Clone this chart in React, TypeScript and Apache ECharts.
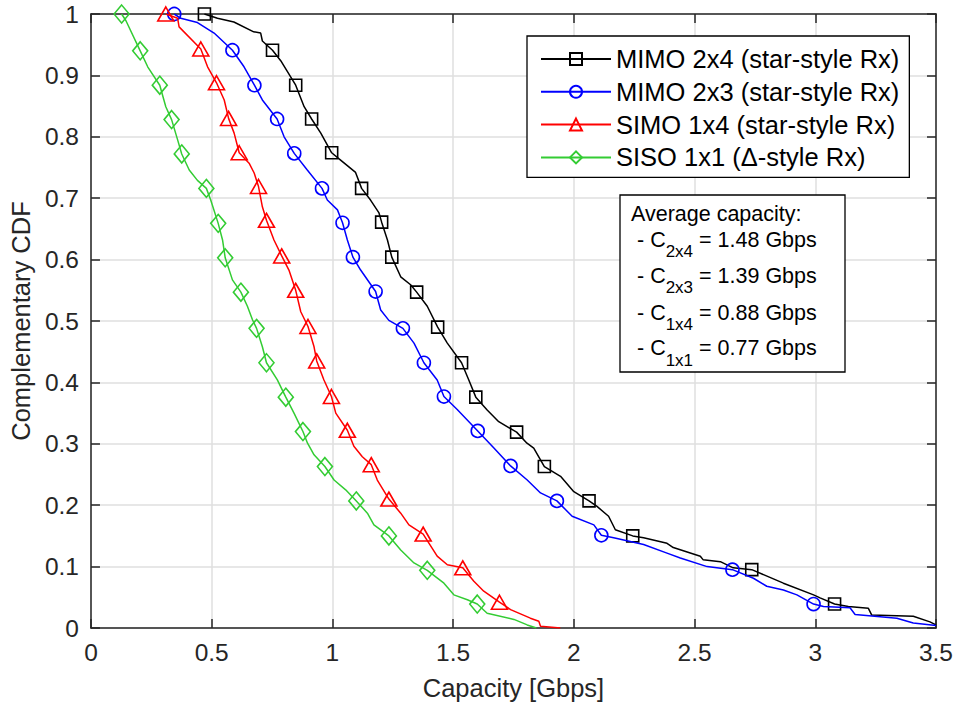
import React, { useEffect, useRef } from "react";
import * as echarts from "echarts";

const FONT = "'Liberation Sans', Arial, Helvetica, sans-serif";

const seriesNames = [
  "MIMO 2x4 (star-style Rx)",
  "MIMO 2x3 (star-style Rx)",
  "SIMO 1x4 (star-style Rx)",
  "SISO 1x1 (Δ-style Rx)",
];
const seriesColors = ["#000000", "#0000ff", "#ff0000", "#33cc33"];
const seriesSymbols = ["rect", "circle", "triangle", "diamond"];
const seriesSymbolSizes: any[] = [12, 13, [16, 14], [15, 18]];

// MIMO 2x4 curve (points between markers) and marker points
const mimo24Curve = [
  [0.524, 0.993], [0.592, 0.987], [0.674, 0.971], [0.703, 0.969], [0.71, 0.956],
  [0.786, 0.924], [0.883, 0.849], [0.952, 0.806], [1.034, 0.762], [1.096, 0.742],
  [1.158, 0.697], [1.193, 0.676], [1.228, 0.632], [1.283, 0.572], [1.324, 0.559],
  [1.393, 0.524], [1.476, 0.464], [1.565, 0.404], [1.641, 0.355], [1.689, 0.336],
  [1.806, 0.301], [1.834, 0.293], [1.945, 0.247], [2.0, 0.222], [2.096, 0.198],
  [2.144, 0.182], [2.172, 0.16], [2.289, 0.147], [2.386, 0.138], [2.412, 0.131],
  [2.524, 0.117], [2.536, 0.111], [2.607, 0.108], [2.66, 0.098], [2.868, 0.073],
  [2.993, 0.054], [3.02, 0.049], [3.137, 0.035], [3.22, 0.032], [3.234, 0.021],
  [3.406, 0.019], [3.475, 0.01], [3.5, 0.005],
];
const mimo24Markers = [
  [0.47, 1.0], [0.752, 0.941], [0.848, 0.884], [0.914, 0.829], [0.997, 0.774],
  [1.121, 0.716], [1.204, 0.661], [1.246, 0.604], [1.349, 0.547], [1.436, 0.49],
  [1.535, 0.432], [1.594, 0.376], [1.763, 0.319], [1.878, 0.263], [2.063, 0.207],
  [2.244, 0.15], [2.737, 0.095], [3.08, 0.039],
];

// MIMO 2x3
const mimo23Curve = [
  [0.372, 0.993], [0.441, 0.986], [0.51, 0.969], [0.634, 0.914], [0.71, 0.86],
  [0.8, 0.8], [0.896, 0.746], [0.979, 0.697], [1.021, 0.681], [1.062, 0.632],
  [1.117, 0.583], [1.2, 0.518], [1.234, 0.501], [1.338, 0.464], [1.434, 0.404],
  [1.517, 0.356], [1.669, 0.293], [1.807, 0.241], [1.862, 0.22], [1.993, 0.182],
  [2.083, 0.168], [2.165, 0.147], [2.289, 0.136], [2.386, 0.122], [2.441, 0.114],
  [2.552, 0.1], [2.744, 0.081], [2.799, 0.068], [2.868, 0.062], [2.924, 0.054],
  [3.034, 0.035], [3.144, 0.033], [3.165, 0.022], [3.338, 0.016], [3.406, 0.008],
  [3.5, 0.004],
];
const mimo23Markers = [
  [0.345, 1.0], [0.586, 0.941], [0.677, 0.884], [0.771, 0.829], [0.842, 0.773],
  [0.957, 0.716], [1.042, 0.66], [1.085, 0.604], [1.179, 0.548], [1.292, 0.488],
  [1.379, 0.432], [1.462, 0.377], [1.602, 0.321], [1.738, 0.264], [1.93, 0.207],
  [2.114, 0.151], [2.657, 0.095], [2.993, 0.039],
];

// SIMO 1x4
const simo14Curve = [
  [0.359, 0.993], [0.365, 0.979], [0.483, 0.914], [0.552, 0.86], [0.593, 0.806],
  [0.655, 0.757], [0.676, 0.741], [0.71, 0.686], [0.758, 0.632], [0.82, 0.583],
  [0.869, 0.515], [0.924, 0.458], [0.965, 0.404], [1.014, 0.35], [1.089, 0.296],
  [1.124, 0.279], [1.186, 0.241], [1.283, 0.187], [1.317, 0.168], [1.434, 0.117],
  [1.476, 0.103], [1.586, 0.076], [1.627, 0.06], [1.738, 0.03], [1.82, 0.016],
  [1.855, 0.011], [1.862, 0.003], [1.944, 0.0],
];
const simo14Markers = [
  [0.31, 1.0], [0.455, 0.943], [0.52, 0.888], [0.57, 0.83], [0.614, 0.774],
  [0.694, 0.719], [0.727, 0.664], [0.79, 0.606], [0.848, 0.55], [0.899, 0.491],
  [0.935, 0.435], [0.996, 0.377], [1.062, 0.322], [1.161, 0.266], [1.234, 0.21],
  [1.376, 0.153], [1.54, 0.098], [1.692, 0.042],
];

// SISO 1x1
const siso11Curve = [
  [0.145, 0.989], [0.235, 0.914], [0.31, 0.849], [0.359, 0.795], [0.407, 0.746],
  [0.441, 0.729], [0.496, 0.697], [0.545, 0.632], [0.586, 0.567], [0.648, 0.524],
  [0.669, 0.502], [0.71, 0.458], [0.772, 0.404], [0.841, 0.35], [0.897, 0.301],
  [0.924, 0.282], [1.007, 0.241], [1.055, 0.225], [1.145, 0.187], [1.172, 0.168],
  [1.283, 0.127], [1.338, 0.106], [1.462, 0.073], [1.503, 0.054], [1.559, 0.046],
  [1.641, 0.024], [1.752, 0.014], [1.807, 0.005], [1.845, 0.0],
];
const siso11Markers = [
  [0.127, 1.0], [0.204, 0.94], [0.285, 0.884], [0.334, 0.828], [0.376, 0.772],
  [0.478, 0.716], [0.527, 0.659], [0.556, 0.603], [0.621, 0.547], [0.686, 0.488],
  [0.727, 0.432], [0.807, 0.376], [0.878, 0.32], [0.969, 0.263], [1.099, 0.207],
  [1.234, 0.15], [1.393, 0.094], [1.6, 0.039],
];

const curves = [mimo24Curve, mimo23Curve, simo14Curve, siso11Curve];
const markers = [mimo24Markers, mimo23Markers, simo14Markers, siso11Markers];

const avgTitle = "Average capacity:";
const avgConfigs = ["2x4", "2x3", "1x4", "1x1"];
const avgValues = [1.48, 1.39, 0.88, 0.77];

function buildData(curve: number[][], marks: number[][]) {
  const pts: any[] = [
    ...curve.map((p) => ({ value: p, symbol: "none" })),
    ...marks.map((p) => ({ value: p })),
  ];
  pts.sort((a, b) => a.value[0] - b.value[0] || b.value[1] - a.value[1]);
  return pts;
}

export default function App() {
  const ref = useRef<HTMLDivElement>(null);
  useEffect(() => {
    if (!ref.current) return;
    const chart = echarts.init(ref.current, null, { renderer: "svg" });
    const axisColor = "#262626";
    const gridColor = "#dfdfdf";
    const axisLine = { show: true, onZero: false, lineStyle: { color: axisColor, width: 1.5 } };
    const axisTick = { show: true, inside: true, length: 9, lineStyle: { color: axisColor, width: 1.5 } };

    const series = seriesNames.map((name, i) => ({
      type: "line",
      name,
      data: buildData(curves[i], markers[i]),
      symbol: seriesSymbols[i],
      symbolSize: seriesSymbolSizes[i],
      color: seriesColors[i],
      lineStyle: { color: seriesColors[i], width: 1.5 },
      itemStyle: { color: "rgba(0,0,0,0)", borderColor: seriesColors[i], borderWidth: 1.6 },
      emphasis: { disabled: true },
      xAxisIndex: 0,
      yAxisIndex: 0,
      z: 2 + i,
    }));

    const lineYs = [239.8, 275.8, 312.5, 348.2];
    const graphic: any[] = [
      {
        type: "rect",
        shape: { x: 620, y: 195, width: 225, height: 177 },
        style: { fill: "#fff", stroke: "#000", lineWidth: 1.3 },
        z: 100,
      },
      {
        type: "text",
        x: 631,
        y: 214.2,
        style: { text: avgTitle, fontSize: 21.5, fontFamily: FONT, fill: "#000", verticalAlign: "middle", align: "left" },
        z: 101,
      },
      ...avgConfigs.map((c, i) => ({
        type: "text",
        x: 637,
        y: lineYs[i],
        style: {
          text: `- C{sub|${c}} = ${avgValues[i].toFixed(2)} Gbps`,
          fontSize: 21.5,
          fontFamily: FONT,
          fill: "#000",
          verticalAlign: "middle",
          align: "left",
          rich: { sub: { fontSize: 17, fontFamily: FONT, fill: "#000", padding: [24, 0, 0, 0] } },
        },
        z: 101,
      })),
    ];

    chart.setOption({
      animation: false,
      textStyle: { fontFamily: FONT },
      grid: { left: 90, right: 20, top: 14, bottom: 78, containLabel: false },
      xAxis: [
        {
          type: "value",
          min: 0,
          max: 3.5,
          interval: 0.5,
          position: "bottom",
          name: "Capacity [Gbps]",
          nameLocation: "middle",
          nameGap: 47,
          nameTextStyle: { fontSize: 25.5, color: axisColor, fontFamily: FONT },
          axisLine,
          axisTick,
          axisLabel: { fontSize: 24.5, color: axisColor, margin: 12, fontFamily: FONT },
          splitLine: { show: true, lineStyle: { color: gridColor, width: 1.5 } },
        },
        {
          type: "value",
          min: 0,
          max: 3.5,
          interval: 0.5,
          position: "top",
          axisLine,
          axisTick,
          axisLabel: { show: false },
          splitLine: { show: false },
        },
      ],
      yAxis: [
        {
          type: "value",
          min: 0,
          max: 1,
          interval: 0.1,
          position: "left",
          name: "Complementary CDF",
          nameLocation: "middle",
          nameGap: 56,
          nameTextStyle: { fontSize: 25.5, color: axisColor, fontFamily: FONT },
          axisLine,
          axisTick,
          axisLabel: { fontSize: 24.5, color: axisColor, margin: 12, fontFamily: FONT },
          splitLine: { show: true, lineStyle: { color: gridColor, width: 1.5 } },
        },
        {
          type: "value",
          min: 0,
          max: 1,
          interval: 0.1,
          position: "right",
          axisLine,
          axisTick,
          axisLabel: { show: false },
          splitLine: { show: false },
        },
      ],
      legend: {
        orient: "vertical",
        left: 527,
        top: 36,
        padding: [10, 10, 7, 13],
        itemWidth: 70,
        itemHeight: 15,
        itemGap: 6.8,
        backgroundColor: "#fff",
        borderColor: "#000",
        borderWidth: 1.3,
        borderRadius: 0,
        selectedMode: false,
        textStyle: { fontSize: 25.5, color: "#000", fontFamily: FONT, lineHeight: 25 },
        data: seriesNames,
        z: 50,
      },
      graphic,
      series,
    });
    return () => chart.dispose();
  }, []);
  return (
    <div
      ref={ref}
      style={{ position: "fixed", left: 0, top: 0, width: 956, height: 706, background: "#fff" }}
    />
  );
}
